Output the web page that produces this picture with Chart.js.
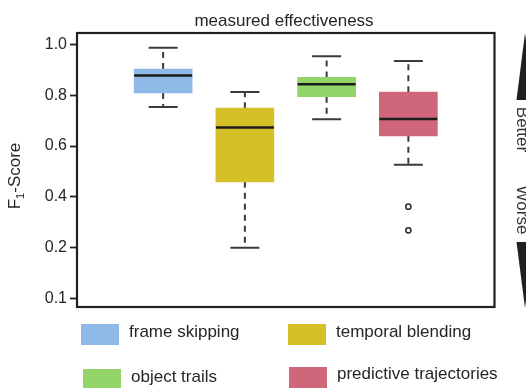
<!DOCTYPE html>
<html>
<head>
<meta charset="utf-8">
<title>measured effectiveness</title>
<script src="https://cdn.jsdelivr.net/npm/chart.js@4.4.1/dist/chart.umd.min.js"></script>
<style>
  html, body { margin: 0; padding: 0; background: #ffffff; }
  #wrap { position: relative; width: 526px; height: 388px; overflow: hidden; }
  #c { position: absolute; left: 0; top: 0; }
  .swatch { position: absolute; }
  .lbl { position: absolute; font-family: 'Liberation Sans', Arial, sans-serif; font-size: 17px;
         line-height: 20px; color: #262626; white-space: nowrap; }
</style>
</head>
<body>
<div id="wrap">
  <canvas id="c" width="526" height="388"></canvas>
</div>
<script>
// Methods compared
const categories = ['frame skipping', 'temporal blending', 'object trails', 'predictive trajectories'];

// Box-plot statistics per method (F1-Score)
const whiskerLow  = [0.754, 0.199, 0.705, 0.526];
const q1          = [0.809, 0.459, 0.794, 0.640];
const median      = [0.878, 0.673, 0.843, 0.706];
const q3          = [0.903, 0.749, 0.870, 0.812];
const whiskerHigh = [0.987, 0.813, 0.953, 0.935];
const outliers    = [[], [], [], [0.361, 0.268]];

// Y-axis ticks and their printed labels
const tickValues = [0, 0.2, 0.4, 0.6, 0.8, 1.0];
const tickLabels = ['0.1', '0.2', '0.4', '0.6', '0.8', '1.0'];

const boxColors = ['#8fb9e6', '#d6c02a', '#93d568', '#cf6679'];
const FONT = "'Liberation Sans', Arial, sans-serif";
const INK = '#262626';

Chart.defaults.font.family = FONT;
Chart.defaults.color = INK;

// whisker segments: q3 -> upper whisker, q1 -> lower whisker, separated by gaps
const whiskerSegments = [];
categories.forEach((c, i) => {
  whiskerSegments.push({ x: i + 1, y: q3[i] }, { x: i + 1, y: whiskerHigh[i] }, { x: i + 1, y: null });
  whiskerSegments.push({ x: i + 1, y: q1[i] }, { x: i + 1, y: whiskerLow[i] }, { x: i + 1, y: null });
});
const capPoints = [];
categories.forEach((c, i) => {
  capPoints.push({ x: i + 1, y: whiskerLow[i] }, { x: i + 1, y: whiskerHigh[i] });
});
const outlierPoints = outliers.flatMap((arr, i) => arr.map(v => ({ x: i + 1, y: v })));

// Frame, title, axis title with subscript, and the Better/Worse arrows
const decorations = {
  id: 'decorations',
  afterDraw(chart) {
    const { ctx, chartArea: a } = chart;
    ctx.save();
    ctx.strokeStyle = '#231f20';
    ctx.lineWidth = 2.2;
    ctx.strokeRect(a.left, a.top, a.right - a.left, a.bottom - a.top);

    ctx.fillStyle = INK;
    ctx.font = `17px ${FONT}`;
    ctx.textAlign = 'center';
    ctx.textBaseline = 'alphabetic';
    ctx.fillText('measured effectiveness', 284, 25.5);

    // y-axis title: F₁-Score
    ctx.save();
    ctx.translate(20, 176);
    ctx.rotate(-Math.PI / 2);
    ctx.textAlign = 'left';
    const big = `17px ${FONT}`, small = `11px ${FONT}`;
    ctx.font = big; const wF = ctx.measureText('F').width; const wS = ctx.measureText('-Score').width;
    ctx.font = small; const w1 = ctx.measureText('1').width;
    let x0 = -(wF + w1 + wS) / 2;
    ctx.font = big; ctx.fillText('F', x0, 0);
    ctx.font = small; ctx.fillText('1', x0 + wF, 4);
    ctx.font = big; ctx.fillText('-Score', x0 + wF + w1, 0);
    ctx.restore();

    // arrows
    ctx.fillStyle = '#231f20';
    ctx.beginPath();
    ctx.moveTo(525, 33); ctx.lineTo(534, 100); ctx.lineTo(516.5, 100); ctx.closePath(); ctx.fill();
    ctx.beginPath();
    ctx.moveTo(516.5, 242); ctx.lineTo(534, 242); ctx.lineTo(525, 308); ctx.closePath(); ctx.fill();

    ctx.fillStyle = '#333333';
    ctx.font = `17px ${FONT}`;
    ctx.textAlign = 'center';
    [['Better', 129.5], ['Worse', 210]].forEach(([t, y]) => {
      ctx.save();
      ctx.translate(516.5, y);
      ctx.rotate(Math.PI / 2);
      ctx.fillText(t, 0, 0);
      ctx.restore();
    });
    ctx.restore();
  }
};

new Chart(document.getElementById('c'), {
  type: 'bar',
  data: {
    datasets: [
      {
        type: 'scatter', label: 'median', data: categories.map((c, i) => ({ x: i + 1, y: median[i] })),
        pointStyle: 'line', pointRadius: 29, pointHoverRadius: 29,
        pointBorderColor: '#1c1c1c', pointBorderWidth: 2.5, borderColor: '#1c1c1c'
      },
      {
        type: 'scatter', label: 'outliers', data: outlierPoints,
        pointStyle: 'circle', pointRadius: 2.6, pointHoverRadius: 2.6,
        pointBackgroundColor: '#ffffff', pointBorderColor: '#2a2a2a', pointBorderWidth: 1.5
      },
      {
        type: 'scatter', label: 'caps', data: capPoints,
        pointStyle: 'line', pointRadius: 14.5, pointHoverRadius: 14.5,
        pointBorderColor: '#3a3a3a', pointBorderWidth: 2, borderColor: '#3a3a3a'
      },
      {
        type: 'bar', label: 'IQR', data: categories.map((c, i) => ({ x: i + 1, y: [q1[i], q3[i]] })),
        backgroundColor: boxColors, borderWidth: 0, barThickness: 58
      },
      {
        type: 'line', label: 'whiskers', data: whiskerSegments,
        borderColor: '#3a3a3a', borderWidth: 2, borderDash: [6, 5],
        pointRadius: 0, spanGaps: false, fill: false
      }
    ]
  },
  options: {
    responsive: false,
    devicePixelRatio: 1,
    animation: false,
    events: [],
    layout: { padding: { top: 33, right: 27, bottom: 81, left: 0 } },
    plugins: { legend: { display: false }, tooltip: { enabled: false }, title: { display: false } },
    scales: {
      x: { type: 'linear', min: 0.23, max: 4.77, display: false },
      y: {
        type: 'linear', position: 'left', min: -0.034, max: 1.045,
        afterBuildTicks: s => { s.ticks = tickValues.map(v => ({ value: v })); },
        afterFit: s => { s.width = 77; },
        ticks: {
          font: { size: 16 }, color: INK, padding: 3,
          callback: (v) => tickLabels[tickValues.indexOf(v)]
        },
        grid: { display: true, drawOnChartArea: false, drawTicks: true, tickLength: 7,
                tickColor: '#231f20', tickWidth: 1.8 },
        border: { display: false }
      }
    }
  },
  plugins: [decorations]
});

// Legend laid out in two rows of two
const legendSpots = [
  { sx: 81,  sy: 324, sw: 38, sh: 21, tx: 129, ty: 321.5 },
  { sx: 288, sy: 324, sw: 38, sh: 21, tx: 336, ty: 321.5 },
  { sx: 83,  sy: 369, sw: 38, sh: 20, tx: 131, ty: 367 },
  { sx: 289, sy: 367, sw: 38, sh: 22, tx: 337, ty: 364 }
];
// the legend reads row by row: frame skipping, temporal blending / object trails, predictive trajectories
const wrap = document.getElementById('wrap');
categories.forEach((name, i) => {
  const p = legendSpots[i];
  const sw = document.createElement('div');
  sw.className = 'swatch';
  Object.assign(sw.style, { left: p.sx + 'px', top: p.sy + 'px', width: p.sw + 'px', height: p.sh + 'px', background: boxColors[i] });
  const t = document.createElement('div');
  t.className = 'lbl';
  Object.assign(t.style, { left: p.tx + 'px', top: p.ty + 'px' });
  t.textContent = name;
  wrap.appendChild(sw);
  wrap.appendChild(t);
});
</script>
</body>
</html>
